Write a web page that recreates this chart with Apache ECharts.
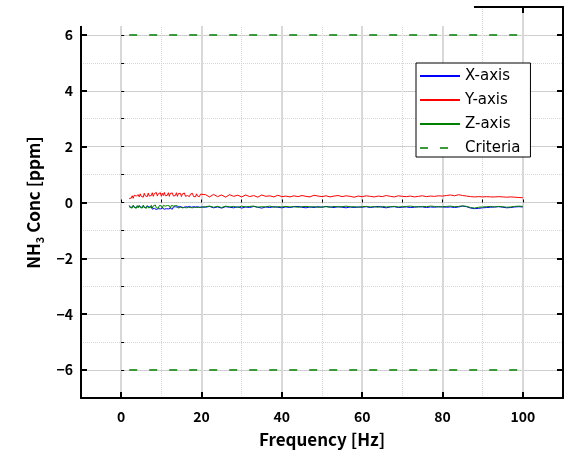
<!DOCTYPE html>
<html><head><meta charset="utf-8">
<script src="https://cdn.jsdelivr.net/npm/echarts@6/dist/echarts.min.js"></script>
<style>html,body{margin:0;padding:0;background:#fff}#c{width:568px;height:454px}</style>
</head><body><div id="c"></div><script>
// ---- data ----
const freq = [2,2.25,2.5,2.75,3,3.25,3.5,3.75,4,4.25,4.5,4.75,5,5.25,5.5,5.75,6,6.25,6.5,6.75,
  7,7.25,7.5,7.75,8,8.25,8.5,8.75,9,9.25,9.5,9.75,10,10.25,10.5,10.75,11,11.25,11.5,11.75,
  12,12.25,12.5,12.75,13,13.25,13.5,13.75,14,14.25,14.5,14.75,15,15.25,15.5,15.75,16,16.25,16.5,16.75,
  17,17.25,17.5,17.75,18,18.25,18.5,18.75,19,19.25,19.5,19.75,20,
  21,22,23,24,25,26,27,28,29,30,31,32,33,34,35,36,37,38,39,40,41,42,43,44,45,46,47,48,49,50,
  51,52,53,54,55,56,57,58,59,60,61,62,63,64,65,66,67,68,69,70,71,72,73,74,75,76,77,78,79,80,
  81,82,83,84,85,86,87,88,89,90,91,92,93,94,95,96,97,98,99,100];
const xAxisVals = [-0.15,-0.22,-0.17,-0.24,-0.14,-0.21,-0.18,-0.25,-0.16,-0.23,
  -0.13,-0.20,-0.17,-0.24,-0.15,-0.22,-0.18,-0.25,-0.14,-0.21,
  -0.16,-0.23,-0.15,-0.24,-0.17,-0.21,-0.14,-0.25,-0.18,-0.22,
  -0.15,-0.23,-0.16,-0.20,-0.14,-0.24,-0.17,-0.22,-0.15,-0.23,
  -0.18,-0.21,-0.14,-0.24,-0.16,-0.22,-0.15,-0.20,-0.17,-0.23,
  -0.14,-0.21,-0.16,-0.22,-0.18,-0.24,-0.15,-0.20,-0.16,-0.22,
  -0.14,-0.21,-0.17,-0.23,-0.15,-0.20,-0.16,-0.22,-0.15,-0.21,
  -0.17,-0.20,-0.16,
  -0.17,-0.14,-0.19,-0.16,-0.20,-0.15,-0.17,-0.19,-0.15,-0.20,
  -0.16,-0.18,-0.14,-0.17,-0.20,-0.16,-0.18,-0.15,-0.17,-0.19,
  -0.16,-0.18,-0.15,-0.14,-0.17,-0.19,-0.16,-0.18,-0.15,-0.17,
  -0.14,-0.16,-0.18,-0.15,-0.17,-0.19,-0.16,-0.18,-0.16,-0.17,
  -0.15,-0.18,-0.16,-0.14,-0.17,-0.19,-0.16,-0.15,-0.18,-0.17,
  -0.16,-0.18,-0.17,-0.15,-0.16,-0.18,-0.16,-0.17,-0.15,-0.16,
  -0.17,-0.16,-0.18,-0.16,-0.13,-0.15,-0.20,-0.22,-0.21,-0.19,
  -0.18,-0.17,-0.16,-0.15,-0.17,-0.19,-0.18,-0.16,-0.15,-0.16];
const yAxisVals = [0.14,0.21,0.16,0.24,0.15,0.26,0.19,0.23,0.17,0.28,
  0.20,0.31,0.22,0.27,0.19,0.33,0.24,0.29,0.21,0.34,
  0.23,0.30,0.25,0.35,0.22,0.32,0.26,0.36,0.23,0.31,
  0.27,0.35,0.22,0.33,0.25,0.36,0.24,0.30,0.26,0.35,
  0.22,0.33,0.27,0.34,0.23,0.30,0.25,0.35,0.22,0.32,
  0.26,0.33,0.21,0.31,0.24,0.34,0.22,0.29,0.25,0.32,
  0.21,0.30,0.24,0.33,0.22,0.28,0.20,0.31,0.23,0.29,
  0.21,0.30,0.23,
  0.28,0.20,0.29,0.21,0.27,0.19,0.28,0.22,0.26,0.20,
  0.27,0.21,0.25,0.19,0.27,0.22,0.24,0.20,0.26,0.21,
  0.23,0.20,0.24,0.21,0.25,0.22,0.20,0.26,0.23,0.21,
  0.24,0.20,0.23,0.25,0.21,0.24,0.22,0.19,0.23,0.21,
  0.24,0.22,0.20,0.23,0.21,0.25,0.22,0.20,0.24,0.22,
  0.21,0.23,0.20,0.22,0.24,0.21,0.23,0.22,0.24,0.23,
  0.25,0.27,0.24,0.28,0.25,0.23,0.21,0.20,0.21,0.20,
  0.21,0.20,0.20,0.21,0.20,0.19,0.20,0.19,0.18,0.17];
const zAxisVals = [-0.10,-0.18,-0.12,-0.20,-0.09,-0.17,-0.13,-0.21,-0.11,-0.19,
  -0.10,-0.18,-0.13,-0.20,-0.09,-0.17,-0.12,-0.21,-0.11,-0.19,
  -0.13,-0.18,-0.10,-0.20,-0.12,-0.17,-0.09,-0.19,-0.13,-0.21,
  -0.11,-0.18,-0.12,-0.20,-0.10,-0.17,-0.13,-0.19,-0.11,-0.18,
  -0.12,-0.20,-0.10,-0.17,-0.13,-0.19,-0.11,-0.18,-0.12,-0.20,
  -0.13,-0.17,-0.11,-0.19,-0.12,-0.18,-0.14,-0.19,-0.12,-0.17,
  -0.13,-0.18,-0.11,-0.19,-0.14,-0.17,-0.12,-0.18,-0.13,-0.17,
  -0.14,-0.18,-0.13,
  -0.15,-0.13,-0.17,-0.14,-0.18,-0.13,-0.16,-0.14,-0.18,-0.13,
  -0.16,-0.14,-0.13,-0.17,-0.15,-0.16,-0.13,-0.17,-0.15,-0.16,
  -0.14,-0.16,-0.15,-0.17,-0.15,-0.14,-0.16,-0.15,-0.17,-0.16,
  -0.15,-0.17,-0.14,-0.16,-0.15,-0.13,-0.16,-0.15,-0.17,-0.15,
  -0.14,-0.16,-0.15,-0.17,-0.14,-0.16,-0.15,-0.14,-0.16,-0.15,
  -0.14,-0.13,-0.15,-0.16,-0.14,-0.15,-0.13,-0.14,-0.16,-0.15,
  -0.14,-0.13,-0.15,-0.14,-0.12,-0.14,-0.18,-0.20,-0.17,-0.16,
  -0.15,-0.14,-0.16,-0.14,-0.15,-0.17,-0.16,-0.14,-0.13,-0.14];
const critFreq = [2, 100];
const critUpper = [6, 6];
const critLower = [-6, -6];
const legendNames = ['X-axis','Y-axis','Z-axis','Criteria'];

// ---- chart ----
const FONT = '"Noto Sans CJK JP", "Noto Sans", sans-serif';
const LEGEND_FONT = '"DejaVu Sans", sans-serif';
const minus = v => String(v).replace('-', '\u2212');
const pairs = (xs, ys) => xs.map((x, i) => [x, ys[i]]);

const majorLabel = {fontFamily: FONT, fontSize: 14, fontWeight: 'bold', color: '#000', formatter: minus, showMinLabel: false, showMaxLabel: false};
const frameLine = {show: true, onZero: false, lineStyle: {color: '#000', width: 2}};
const majorTick = {show: true, inside: true, length: 6, lineStyle: {color: '#000', width: 2}};
const minorTickStyle = {show: true, inside: true, length: 3, lineStyle: {color: '#000', width: 1}};

const chart = echarts.init(document.getElementById('c'), null, {renderer: 'canvas'});
chart.setOption({
  animation: false,
  backgroundColor: '#fff',
  grid: {left: 81, right: 5, top: 7, bottom: 56, containLabel: false},
  xAxis: [
    {type: 'value', min: -10, max: 110, splitNumber: 6, position: 'bottom',
      axisLine: frameLine, axisTick: majorTick,
      axisLabel: Object.assign({margin: 12}, majorLabel),
      splitLine: {show: true, lineStyle: {color: '#d9d9d9', width: 2}},
      name: 'Frequency [Hz]', nameLocation: 'middle', nameGap: 33,
      nameTextStyle: {fontFamily: FONT, fontSize: 17, fontWeight: 'bold', color: '#000'}},
    {type: 'value', min: -10, max: 110, interval: 10, position: 'bottom',
      axisLine: {show: false}, axisTick: minorTickStyle, axisLabel: {show: false},
      splitLine: {show: true, lineStyle: {color: '#d6d6d6', width: 1, type: 'dotted'}}},
    {type: 'value', min: -10, max: 110, splitNumber: 6, position: 'top',
      axisLine: frameLine, axisTick: majorTick, axisLabel: {show: false}, splitLine: {show: false}}
  ],
  yAxis: [
    {type: 'value', min: -7, max: 7, splitNumber: 7, position: 'left',
      axisLine: frameLine, axisTick: majorTick,
      axisLabel: Object.assign({margin: 8}, majorLabel),
      splitLine: {show: true, lineStyle: {color: '#c8c8c8', width: 1}},
      name: '{a|NH}{s|3}{a| Conc [ppm]}', nameLocation: 'middle', nameGap: 34,
      nameTextStyle: {rich: {
        a: {fontFamily: FONT, fontSize: 17, fontWeight: 'bold', color: '#000', lineHeight: 24},
        s: {fontFamily: FONT, fontSize: 11, fontWeight: 'bold', color: '#000', lineHeight: 24, verticalAlign: 'bottom'}
      }}},
    {type: 'value', min: -7, max: 7, interval: 1, position: 'left',
      axisLine: {show: false}, axisTick: minorTickStyle, axisLabel: {show: false},
      splitLine: {show: true, lineStyle: {color: '#d6d6d6', width: 1, type: 'dotted'}}},
    {type: 'value', min: -7, max: 7, splitNumber: 7, position: 'right',
      axisLine: frameLine, axisTick: majorTick, axisLabel: {show: false}, splitLine: {show: false}}
  ],
  legend: {
    data: legendNames, orient: 'vertical', left: 416, top: 63,
    padding: [5, 10, 1, 3], itemWidth: 40, itemHeight: 14, itemGap: 8,
    borderColor: '#000', borderWidth: 1, borderRadius: 0, backgroundColor: '#fff',
    itemStyle: {opacity: 0},
    textStyle: {fontFamily: LEGEND_FONT, fontSize: 15, color: '#000', lineHeight: 16}
  },
  graphic: [
    {type: 'rect', shape: {x: 0, y: 0, width: 474, height: 26}, style: {fill: '#fff'}, z: 100, silent: true}
  ],
  series: [
    {name: legendNames[0], type: 'line', data: pairs(freq, xAxisVals), symbol: 'none', showSymbol: false,
      lineStyle: {color: '#0000ff', width: 1}, itemStyle: {color: '#0000ff'}, z: 3},
    {name: legendNames[1], type: 'line', data: pairs(freq, yAxisVals), symbol: 'none', showSymbol: false,
      lineStyle: {color: '#ff0000', width: 1}, itemStyle: {color: '#ff0000'}, z: 3},
    {name: legendNames[2], type: 'line', data: pairs(freq, zAxisVals), symbol: 'none', showSymbol: false,
      lineStyle: {color: '#008000', width: 1}, itemStyle: {color: '#008000'}, z: 3},
    {name: legendNames[3], type: 'line', data: pairs(critFreq, critUpper), symbol: 'none', showSymbol: false,
      lineStyle: {color: '#3a9a3a', width: 2, type: [8, 12]}, itemStyle: {color: '#3a9a3a'}, z: 3},
    {name: legendNames[3], type: 'line', data: pairs(critFreq, critLower), symbol: 'none', showSymbol: false,
      lineStyle: {color: '#3a9a3a', width: 2, type: [8, 12]}, itemStyle: {color: '#3a9a3a'}, z: 3}
  ]
});
</script></body></html>
